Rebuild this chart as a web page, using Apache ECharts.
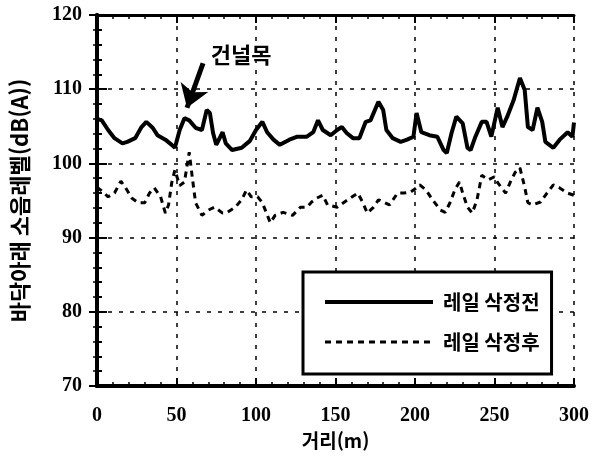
<!DOCTYPE html>
<html lang="ko">
<head>
    <meta charset="utf-8">
    <title>레일 삭정 전후 소음레벨</title>
    <script type="text/javascript" src="https://cdn.jsdelivr.net/npm/echarts/dist/echarts.min.js"></script>
    <style>
        body { margin: 0; background: #fff; }
        #chart { width: 598px; height: 456px; }
    </style>
</head>
<body>
    <div id="chart"></div>

    <script type="text/javascript" charset="utf-8">
        // 레일 삭정전 (before grinding)
        var beforeDist = [0, 3, 7, 11, 16, 19, 24, 28, 31, 35, 38, 43, 47, 49, 52, 55, 58, 62, 66, 69,
            71, 73, 75, 79, 81, 85, 91, 96, 100, 104, 107, 111, 115, 121, 126, 132, 136, 139, 142, 147,
            151, 154, 157, 161, 165, 169, 172, 177, 180, 182, 186, 191, 195, 199, 201, 204, 209, 214, 218, 220,
            223, 226, 230, 233, 235, 238, 242, 245, 248, 252, 255, 258, 262, 266, 269, 271, 274, 277, 280, 282,
            287, 291, 296, 299, 300];
        var beforeLevel = [106, 105.8, 104.5, 103.4, 102.7, 102.9, 103.4, 104.9, 105.6, 104.8, 103.8, 103.2, 102.5, 102.1, 104.5, 106.1, 105.8, 104.8, 104.5, 107.2,
            106.8, 104.1, 102.5, 104.2, 102.7, 101.8, 102.1, 103, 104.5, 105.6, 104.2, 103.2, 102.5, 103.2, 103.6, 103.6, 104.2, 105.8, 104.5, 103.8,
            104.5, 104.9, 104.1, 103.4, 103.4, 105.6, 105.8, 108.3, 107.2, 104.5, 103.4, 102.9, 103.2, 103.6, 106.8, 104.2, 103.8, 103.6, 101.8, 101.4,
            104.1, 106.3, 105.4, 102.1, 101.8, 103.6, 105.6, 105.6, 103.6, 107.5, 104.9, 106.3, 108.5, 111.5, 109.9, 104.9, 104.5, 107.5, 105.6, 102.9,
            102.1, 103.2, 104.2, 103.6, 105.5];

        // 레일 삭정후 (after grinding)
        var afterDist = [0, 4, 7, 11, 15, 18, 22, 26, 30, 33, 36, 40, 43, 45, 47, 49, 52, 55, 58, 60,
            62, 66, 70, 74, 79, 82, 87, 91, 94, 97, 101, 104, 109, 112, 117, 123, 128, 132, 135, 138,
            142, 145, 151, 155, 159, 164, 167, 170, 174, 177, 180, 184, 189, 193, 197, 201, 203, 207, 211, 216,
            219, 222, 225, 228, 230, 233, 236, 239, 242, 246, 250, 252, 257, 260, 263, 266, 269, 271, 274, 279,
            283, 287, 291, 296, 300];
        var afterLevel = [96.8, 96.1, 95.5, 96, 97.6, 96.7, 95.3, 94.7, 94.7, 96, 96.7, 95.5, 93.3, 94.4, 97.4, 99.1, 97, 97.5, 101.5, 98,
            94.7, 93, 93.7, 94.1, 93.3, 93.4, 94.1, 95.1, 96.4, 95.5, 95.5, 94.7, 92, 93, 93.4, 93, 94.1, 94.1, 94.8, 95.3,
            95.7, 94.4, 94.1, 94.7, 95.3, 96, 94.8, 93.3, 94.1, 95.1, 94.8, 94.4, 96, 96, 96.1, 96.7, 97.1, 96.4, 95.1, 93.7,
            93.4, 94.7, 96.4, 97.5, 96, 94.1, 93.3, 95.1, 98.4, 97.8, 98.2, 97.4, 96, 97.5, 98.8, 99.4, 96.8, 94.7, 94.4, 94.8,
            96, 97.1, 96.7, 96, 95.7];

        var seriesNames = ['레일 삭정전', '레일 삭정후'];
        var xTitle = '거리(m)';
        var yTitle = '바닥아래 소음레벨(dB(A))';

        // 건널목 annotation (data coordinates)
        var crossingText = '건널목';
        var crossingTextAt = [90.6, 114.6];
        var crossingArrow = [[66.7, 113.5], [56.6, 107.5]];

        function pairs(xs, ys) {
            var out = [];
            for (var i = 0; i < xs.length; i++) out.push([xs[i], ys[i]]);
            return out;
        }

        var numFont = { fontFamily: 'Liberation Serif', fontWeight: 'bold', fontSize: 20, color: '#000' };
        var korFont = 'Noto Sans CJK KR';
        var gridLine = { show: true, lineStyle: { color: '#000', width: 1.5, type: [4, 7] } };

        var myChart = echarts.init(document.getElementById('chart'));
        myChart.setOption({
            backgroundColor: '#fff',
            animation: false,
            grid: { left: 97, right: 24, top: 15, bottom: 70 },
            legend: {
                orient: 'vertical',
                left: 303,
                top: 272,
                padding: [20, 12, 22, 20],
                itemWidth: 108,
                itemHeight: 16,
                itemGap: 20,
                backgroundColor: '#fff',
                borderColor: '#000',
                borderWidth: 3,
                borderRadius: 0,
                // hide the marker dot, keep only the line sample
                itemStyle: { color: 'rgba(0,0,0,0)', borderWidth: 0, opacity: 0 },
                textStyle: { fontFamily: korFont, fontWeight: 'bold', fontSize: 20, color: '#000', padding: [0, 0, 0, 5] },
                data: [
                    { name: seriesNames[0], lineStyle: { width: 4 } },
                    { name: seriesNames[1], lineStyle: { width: 3 } }
                ]
            },
            xAxis: [{
                type: 'value',
                min: 0, max: 300, interval: 50,
                name: xTitle,
                nameLocation: 'middle',
                nameGap: 42,
                nameTextStyle: { fontFamily: korFont, fontWeight: 'bold', fontSize: 19, color: '#000' },
                axisLine: { lineStyle: { color: '#000', width: 4 } },
                axisTick: { inside: true, length: 8, lineStyle: { color: '#000', width: 2 } },
                minorTick: { show: true, splitNumber: 5, length: 4, lineStyle: { color: '#000', width: 1.5 } },
                axisLabel: Object.assign({ margin: 20 }, numFont),
                splitLine: gridLine
            }, {
                type: 'value',
                position: 'top',
                min: 0, max: 300, interval: 50,
                axisLine: { show: true, lineStyle: { color: '#000', width: 3 } },
                axisTick: { show: true, inside: true, length: 8, lineStyle: { color: '#000', width: 2 } },
                minorTick: { show: true, splitNumber: 5, length: 4, lineStyle: { color: '#000', width: 1.5 } },
                axisLabel: { show: false },
                splitLine: { show: false }
            }],
            yAxis: [{
                type: 'value',
                min: 70, max: 120, interval: 10,
                name: yTitle,
                nameLocation: 'middle',
                nameGap: 66,
                nameRotate: 90,
                nameTextStyle: { fontFamily: korFont, fontWeight: 'bold', fontSize: 22, color: '#000' },
                axisLine: { show: true, lineStyle: { color: '#000', width: 4 } },
                axisTick: { show: true, inside: true, length: 10, lineStyle: { color: '#000', width: 2 } },
                minorTick: { show: true, splitNumber: 5, length: 5, lineStyle: { color: '#000', width: 2 } },
                axisLabel: Object.assign({ margin: 15 }, numFont),
                splitLine: gridLine
            }, {
                type: 'value',
                position: 'right',
                min: 70, max: 120, interval: 10,
                axisLine: { show: true, lineStyle: { color: '#000', width: 4 } },
                axisTick: { show: true, inside: true, length: 8, lineStyle: { color: '#000', width: 2 } },
                minorTick: { show: true, splitNumber: 5, length: 4, lineStyle: { color: '#000', width: 1.5 } },
                axisLabel: { show: false },
                splitLine: { show: false }
            }],
            series: [{
                name: seriesNames[0],
                type: 'line',
                showSymbol: false,
                symbol: 'none',
                color: '#000',
                lineStyle: { color: '#000', width: 4, type: 'solid' },
                data: pairs(beforeDist, beforeLevel),
                markLine: {
                    silent: true,
                    symbol: ['none', 'arrow'],
                    symbolSize: 22,
                    label: { show: false },
                    lineStyle: { color: '#000', width: 5, type: 'solid' },
                    data: [[{ coord: crossingArrow[0] }, { coord: crossingArrow[1] }]]
                },
                markPoint: {
                    silent: true,
                    symbol: 'rect',
                    symbolSize: 1,
                    itemStyle: { color: 'rgba(0,0,0,0)' },
                    label: {
                        show: true, position: 'inside', formatter: crossingText,
                        fontFamily: korFont, fontWeight: 'bold', fontSize: 22, color: '#000'
                    },
                    data: [{ coord: crossingTextAt }]
                }
            }, {
                name: seriesNames[1],
                type: 'line',
                showSymbol: false,
                symbol: 'none',
                color: '#000',
                lineStyle: { color: '#000', width: 3, type: [6, 5] },
                data: pairs(afterDist, afterLevel)
            }]
        });
    </script>
</body>
</html>
